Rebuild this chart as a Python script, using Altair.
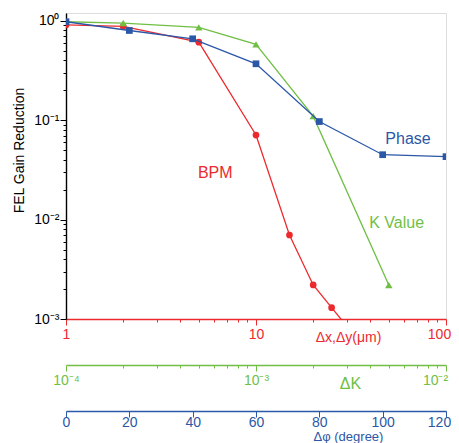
import altair as alt
import pandas as pd

# ---- data ----
bpm_x = [1, 2, 5, 10, 15, 20, 25, 30]                 # Δx,Δy (µm)
bpm_y = [0.91, 0.88, 0.61, 0.071, 0.0070, 0.0022, 0.0013, 0.00085]
k_x = [1e-4, 2e-4, 5e-4, 1e-3, 2e-3, 5e-3]              # ΔK
k_y = [0.98, 0.95, 0.86, 0.58, 0.11, 0.0022]
ph_x = [0, 20, 40, 60, 80, 100, 120]                    # Δφ (degree)
ph_y = [0.98, 0.80, 0.66, 0.37, 0.097, 0.045, 0.043]

labels_text = ["BPM", "K Value", "Phase"]
labels_x = [6.1, 5.5e-3, 108]
labels_y = [0.0295, 0.0093, 0.065]

RED = "#ec2a2e"
GREEN = "#70bf45"
BLUE = "#2b57a7"
FONT = "Liberation Sans"


def log_ticks(lo, hi):
    vals = [m * 10.0 ** e for e in range(lo, hi) for m in range(1, 10)]
    vals.append(10.0 ** hi)
    return vals


def is_major_log():
    return "abs(log(datum.value)/LN10 - round(log(datum.value)/LN10)) < 1e-6"


def tick_size(test):
    return {"condition": {"test": test, "value": 6}, "value": 3}


bpm_df = pd.DataFrame({"x": bpm_x, "y": bpm_y})
k_df = pd.DataFrame({"x": k_x, "y": k_y})
ph_df = pd.DataFrame({"x": ph_x, "y": ph_y})

y_scale = alt.Scale(type="log", domain=[0.001, 1.2], nice=False)
y_axis = alt.Axis(
    values=log_ticks(-3, 0),
    labelExpr="datum.value==1 ? '10⁰' : datum.value==0.1 ? '10⁻¹' : datum.value==0.01 ? '10⁻²' : datum.value==0.001 ? '10⁻³' : ''",
    tickSize=tick_size(is_major_log()),
    tickColor="black", domainColor="black", domainWidth=1.4, tickWidth=1,
    labelColor="black", labelFont=FONT, labelFontSize=14, labelPadding=1,
    labelOverlap=False, labelBaseline="middle",
    grid=False,
    title="FEL Gain Reduction", titleFont=FONT, titleFontSize=14,
    titleFontWeight="normal", titleColor="black",
    titleX=-47, titleY=137, titleAngle=270, titleAlign="center", titleBaseline="middle",
)


def x_axis(color, values, label_expr, tick_test, last_test, last_shift, offset, title,
           title_x, title_y, title_size, label_pad):
    return alt.Axis(
        orient="bottom", offset=offset, values=values, labelExpr=label_expr,
        tickSize=tick_size(tick_test), tickColor=color, tickWidth=1,
        domainColor=color, domainWidth=1.4,
        labelColor=color, labelFont=FONT, labelFontSize=14, labelPadding=label_pad,
        labelOffset={"condition": {"test": last_test, "value": last_shift}, "value": 0},
        labelBaseline="middle", labelFlush=False, labelOverlap=False, labelBound=False,
        grid=False,
        title=title, titleColor=color, titleFont=FONT, titleFontSize=title_size,
        titleFontWeight="normal", titleX=title_x, titleY=title_y,
        titleAlign="center", titleBaseline="middle", titleAngle=0,
    )


ann_df = pd.DataFrame({"t": labels_text, "x": labels_x, "y": labels_y})

# BPM layer
bpm_scale = alt.Scale(type="log", domain=[1, 100], nice=False)
bpm_axis = x_axis(RED, log_ticks(0, 2),
                  "datum.value==1 ? '1' : datum.value==10 ? '10' : datum.value==100 ? '100' : ''",
                  is_major_log(), "datum.value==100", -7, 0, "Δx,Δy(μm)", 282, 18, 14, 9)
bpm_base = alt.Chart(bpm_df).encode(
    x=alt.X("x:Q", scale=bpm_scale, axis=bpm_axis),
    y=alt.Y("y:Q", scale=y_scale, axis=y_axis),
)
bpm_layer = alt.layer(
    bpm_base.mark_line(color=RED, strokeWidth=1.3, clip=True),
    bpm_base.mark_point(shape="circle", filled=True, opacity=1, size=45, color=RED, clip=True),
    alt.Chart(ann_df[ann_df.t == "BPM"]).mark_text(color=RED, font=FONT, fontSize=16).encode(
        x=alt.X("x:Q", scale=bpm_scale), y=alt.Y("y:Q", scale=y_scale), text="t:N"),
)

# K layer
k_scale = alt.Scale(type="log", domain=[1e-4, 1e-2], nice=False)
k_axis = x_axis(GREEN, log_ticks(-4, -2),
                "datum.value==0.0001 ? '10⁻⁴' : datum.value==0.001 ? '10⁻³' : datum.value==0.01 ? '10⁻²' : ''",
                is_major_log(), "datum.value==0.01", -11, 46, "ΔK", 284, 18, 16, 9)
k_base = alt.Chart(k_df).encode(
    x=alt.X("x:Q", scale=k_scale, axis=k_axis),
    y=alt.Y("y:Q", scale=y_scale),
)
k_layer = alt.layer(
    k_base.mark_line(color=GREEN, strokeWidth=1.3, clip=True),
    k_base.mark_point(shape="triangle-up", filled=True, opacity=1, size=55, color=GREEN, clip=True),
    alt.Chart(ann_df[ann_df.t == "K Value"]).mark_text(color=GREEN, font=FONT, fontSize=16).encode(
        x=alt.X("x:Q", scale=k_scale), y=alt.Y("y:Q", scale=y_scale), text="t:N"),
)

# Phase layer
ph_scale = alt.Scale(type="linear", domain=[0, 120], nice=False)
ph_axis = x_axis(BLUE, list(range(0, 121, 10)),
                 "datum.value % 20 == 0 ? '' + datum.value : ''",
                 "datum.value % 20 == 0", "datum.value==120", -7, 92, "Δφ (degree)",
                 282, 25, 13, 5)
ph_base = alt.Chart(ph_df).encode(
    x=alt.X("x:Q", scale=ph_scale, axis=ph_axis),
    y=alt.Y("y:Q", scale=y_scale),
)
ph_layer = alt.layer(
    ph_base.mark_line(color=BLUE, strokeWidth=1.3, clip=True),
    ph_base.mark_point(shape="square", filled=True, opacity=1, size=45, color=BLUE, clip=True),
    alt.Chart(ann_df[ann_df.t == "Phase"]).mark_text(color=BLUE, font=FONT, fontSize=16).encode(
        x=alt.X("x:Q", scale=ph_scale), y=alt.Y("y:Q", scale=y_scale), text="t:N"),
)

chart = alt.layer(bpm_layer, k_layer, ph_layer).resolve_scale(
    x="independent", y="shared"
).resolve_axis(x="independent").properties(
    width=380, height=306,
    autosize=alt.AutoSizeParams(type="none"),
    padding={"left": 58, "top": 5, "right": 5, "bottom": 124},
).configure_view(stroke=None).configure(background="white")

chart.save("out.html", embed_options={"renderer": "svg", "actions": False})
